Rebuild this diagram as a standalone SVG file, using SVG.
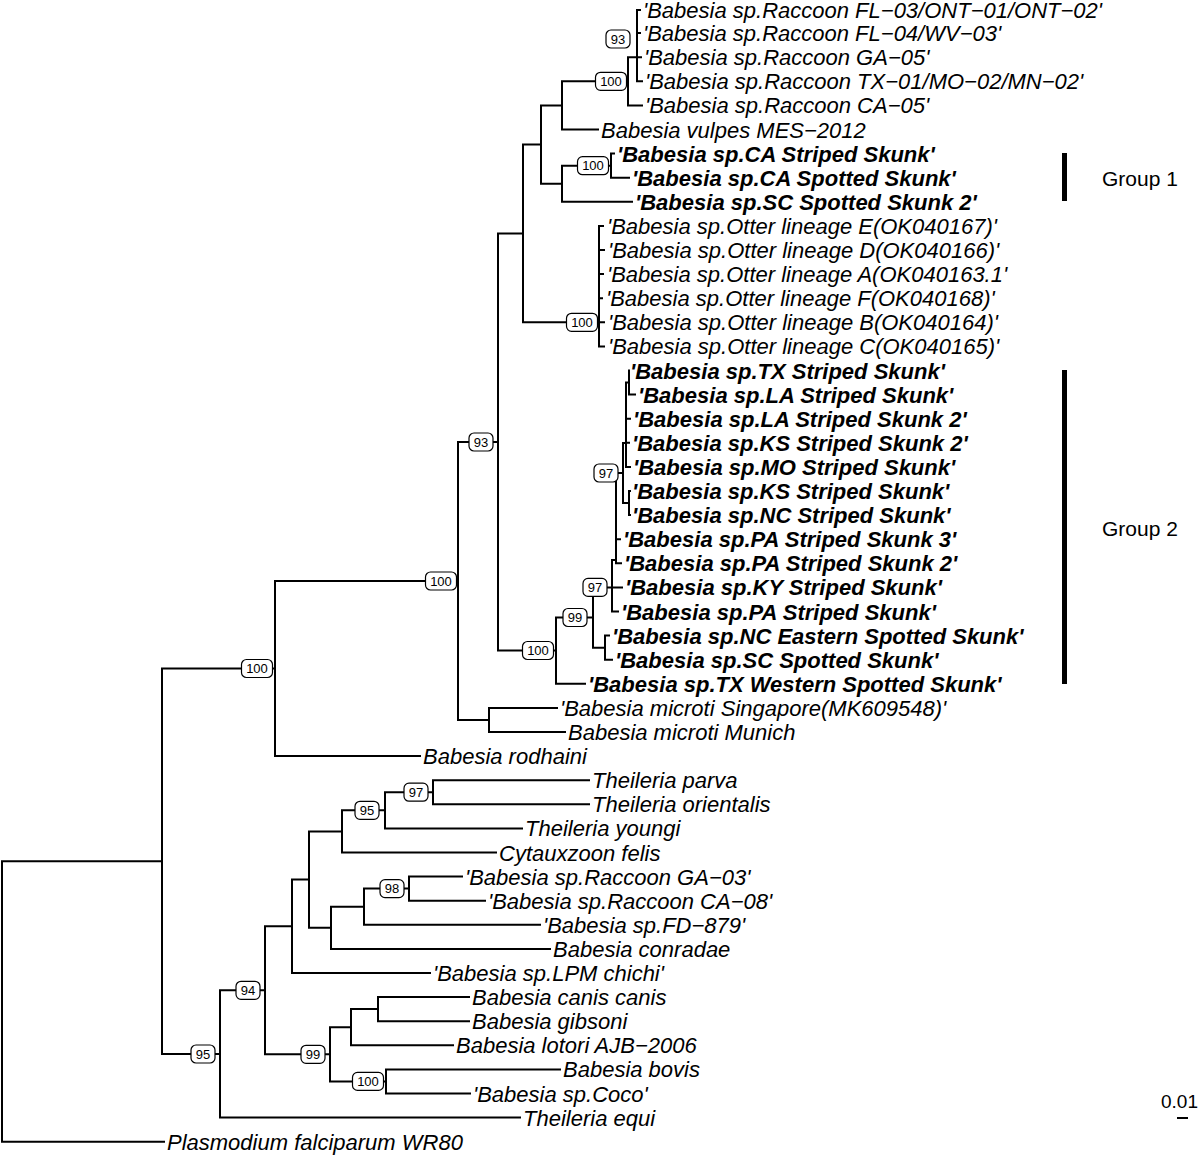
<svg xmlns="http://www.w3.org/2000/svg" width="1200" height="1155" viewBox="0 0 1200 1155">
<style>
.e{fill:none;stroke:#000;stroke-width:2;stroke-linecap:square}
.t{font-family:"Liberation Sans",Arial,sans-serif;font-size:22px;font-style:italic;fill:#000}
.b{font-weight:bold}
.bx rect{fill:#fff;stroke:#000;stroke-width:1.2}
.bx text{font-family:"Liberation Sans",Arial,sans-serif;font-size:13px;text-anchor:middle;fill:#000}
.g{font-family:"Liberation Sans",Arial,sans-serif;font-size:21px;fill:#000}
</style>
<rect width="1200" height="1155" fill="#fff"/>
<g id="connectors" class="e">
<path d="M2 861.2V1141.7M2 861.2H162M2 1141.7H164"/>
<path d="M162 668.5V1054M162 668.5H275M162 1054H220"/>
<path d="M275 581V756.1M275 581H458M275 756.1H420"/>
<path d="M458 442V720M458 442H498M458 720H489"/>
<path d="M489 707.9V732M489 707.9H557M489 732H565"/>
<path d="M498 233.5V650.5M498 233.5H523M498 650.5H556"/>
<path d="M523 144.6V322.3M523 144.6H541M523 322.3H599"/>
<path d="M541 105.4V183.7M541 105.4H562M541 183.7H562"/>
<path d="M562 81.3V129.5M562 81.3H628M562 129.5H598"/>
<path d="M628 57.2V105.4M628 57.2H637M628 105.4H642"/>
<path d="M637 10V81.3M637 10H640M637 33.1H640M637 57.2H641M637 81.3H642"/>
<path d="M562 165.7V201.8M562 165.7H611M562 201.8H632"/>
<path d="M611 153.6V177.7M611 153.6H614M611 177.7H629"/>
<path d="M599 225.9V346.4M599 225.9H603M599 250H604M599 274.1H603M599 298.2H602M599 322.3H604M599 346.4H604"/>
<path d="M556 617.5V683.8M556 617.5H593M556 683.8H585"/>
<path d="M593 587.4V647.7M593 587.4H612M593 647.7H605"/>
<path d="M605 635.6V659.7M605 635.6H609M605 659.7H612"/>
<path d="M612 560V611.5M612 560H616M612 587.4H622M612 611.5H618"/>
<path d="M616 473V563.3M616 473H623M616 539.2H620M616 563.3H621"/>
<path d="M623 443V503M623 443H626M623 503H629"/>
<path d="M626 382.5V466.9M626 382.5H629M626 418.7H630M626 442.8H629M626 466.9H630"/>
<path d="M629 370.5V394.6M629 394.6H635"/>
<path d="M629 491V515.1M629 491H630M629 515.1H630"/>
<path d="M220 990.3V1117.6M220 990.3H265M220 1117.6H520"/>
<path d="M265 926.3V1054.3M265 926.3H292M265 1054.3H330"/>
<path d="M292 879.6V973M292 879.6H309M292 973H430"/>
<path d="M309 831.4V927.8M309 831.4H342M309 927.8H331"/>
<path d="M342 810.3V852.5M342 810.3H385M342 852.5H496"/>
<path d="M385 792.2V828.4M385 792.2H433M385 828.4H522"/>
<path d="M433 780.2V804.3M433 780.2H589M433 804.3H589"/>
<path d="M331 906.7V948.9M331 906.7H364M331 948.9H550"/>
<path d="M364 888.6V924.8M364 888.6H409M364 924.8H540"/>
<path d="M409 876.6V900.7M409 876.6H462M409 900.7H485"/>
<path d="M330 1027.2V1081.4M330 1027.2H351M330 1081.4H386"/>
<path d="M351 1009.1V1045.3M351 1009.1H378M351 1045.3H453"/>
<path d="M378 997.1V1021.2M378 997.1H469M378 1021.2H469"/>
<path d="M386 1069.4V1093.5M386 1069.4H560M386 1093.5H470"/>
</g>
<g id="support-labels" class="bx">
<g id="bs1"><rect x="606" y="30" width="24" height="18" rx="5"/><text x="618" y="43.6">93</text></g>
<g id="bs2"><rect x="595.5" y="72.3" width="31" height="18" rx="5"/><text x="611" y="85.9">100</text></g>
<g id="bs3"><rect x="577.5" y="156.7" width="31" height="18" rx="5"/><text x="593" y="170.3">100</text></g>
<g id="bs4"><rect x="566.5" y="313.3" width="31" height="18" rx="5"/><text x="582" y="326.9">100</text></g>
<g id="bs5"><rect x="469" y="433" width="24" height="18" rx="5"/><text x="481" y="446.6">93</text></g>
<g id="bs6"><rect x="594" y="464" width="24" height="18" rx="5"/><text x="606" y="477.6">97</text></g>
<g id="bs7"><rect x="583" y="578.4" width="24" height="18" rx="5"/><text x="595" y="592">97</text></g>
<g id="bs8"><rect x="563" y="608.5" width="24" height="18" rx="5"/><text x="575" y="622.1">99</text></g>
<g id="bs9"><rect x="522.5" y="641.5" width="31" height="18" rx="5"/><text x="538" y="655.1">100</text></g>
<g id="bs10"><rect x="425.5" y="572" width="31" height="18" rx="5"/><text x="441" y="585.6">100</text></g>
<g id="bs11"><rect x="241.5" y="659.5" width="31" height="18" rx="5"/><text x="257" y="673.1">100</text></g>
<g id="bs12"><rect x="404" y="783.2" width="24" height="18" rx="5"/><text x="416" y="796.8">97</text></g>
<g id="bs13"><rect x="355" y="801.3" width="24" height="18" rx="5"/><text x="367" y="814.9">95</text></g>
<g id="bs14"><rect x="380" y="879.6" width="24" height="18" rx="5"/><text x="392" y="893.2">98</text></g>
<g id="bs15"><rect x="236" y="981.3" width="24" height="18" rx="5"/><text x="248" y="994.9">94</text></g>
<g id="bs16"><rect x="191" y="1045" width="24" height="18" rx="5"/><text x="203" y="1058.6">95</text></g>
<g id="bs17"><rect x="301" y="1045.3" width="24" height="18" rx="5"/><text x="313" y="1058.9">99</text></g>
<g id="bs18"><rect x="352.5" y="1072.4" width="31" height="18" rx="5"/><text x="368" y="1086">100</text></g>
</g>
<g id="tips" class="t">
<g id="tip1"><text x="643" y="17.8">'Babesia sp.Raccoon FL−03/ONT−01/ONT−02'</text></g>
<g id="tip2"><text x="643" y="41.1">'Babesia sp.Raccoon FL−04/WV−03'</text></g>
<g id="tip3"><text x="644" y="65.2">'Babesia sp.Raccoon GA−05'</text></g>
<g id="tip4"><text x="645" y="89.3">'Babesia sp.Raccoon TX−01/MO−02/MN−02'</text></g>
<g id="tip5"><text x="645" y="113.4">'Babesia sp.Raccoon CA−05'</text></g>
<g id="tip6"><text x="601" y="137.5">Babesia vulpes MES−2012</text></g>
<g id="tip7"><text class="b" x="617" y="161.6">'Babesia sp.CA Striped Skunk'</text></g>
<g id="tip8"><text class="b" x="632" y="185.7">'Babesia sp.CA Spotted Skunk'</text></g>
<g id="tip9"><text class="b" x="635" y="209.8">'Babesia sp.SC Spotted Skunk 2'</text></g>
<g id="tip10"><text x="607" y="233.9">'Babesia sp.Otter lineage E(OK040167)'</text></g>
<g id="tip11"><text x="608" y="258">'Babesia sp.Otter lineage D(OK040166)'</text></g>
<g id="tip12"><text x="607" y="282.1">'Babesia sp.Otter lineage A(OK040163.1'</text></g>
<g id="tip13"><text x="606" y="306.2">'Babesia sp.Otter lineage F(OK040168)'</text></g>
<g id="tip14"><text x="608" y="330.3">'Babesia sp.Otter lineage B(OK040164)'</text></g>
<g id="tip15"><text x="608" y="354.4">'Babesia sp.Otter lineage C(OK040165)'</text></g>
<g id="tip16"><text class="b" x="630" y="378.5">'Babesia sp.TX Striped Skunk'</text></g>
<g id="tip17"><text class="b" x="638" y="402.6">'Babesia sp.LA Striped Skunk'</text></g>
<g id="tip18"><text class="b" x="633" y="426.7">'Babesia sp.LA Striped Skunk 2'</text></g>
<g id="tip19"><text class="b" x="632" y="450.8">'Babesia sp.KS Striped Skunk 2'</text></g>
<g id="tip20"><text class="b" x="633" y="474.9">'Babesia sp.MO Striped Skunk'</text></g>
<g id="tip21"><text class="b" x="632" y="499">'Babesia sp.KS Striped Skunk'</text></g>
<g id="tip22"><text class="b" x="632" y="523.1">'Babesia sp.NC Striped Skunk'</text></g>
<g id="tip23"><text class="b" x="623" y="547.2">'Babesia sp.PA Striped Skunk 3'</text></g>
<g id="tip24"><text class="b" x="624" y="571.3">'Babesia sp.PA Striped Skunk 2'</text></g>
<g id="tip25"><text class="b" x="625" y="595.4">'Babesia sp.KY Striped Skunk'</text></g>
<g id="tip26"><text class="b" x="621" y="619.5">'Babesia sp.PA Striped Skunk'</text></g>
<g id="tip27"><text class="b" x="612" y="643.6">'Babesia sp.NC Eastern Spotted Skunk'</text></g>
<g id="tip28"><text class="b" x="615" y="667.7">'Babesia sp.SC Spotted Skunk'</text></g>
<g id="tip29"><text class="b" x="588" y="691.8">'Babesia sp.TX Western Spotted Skunk'</text></g>
<g id="tip30"><text x="560" y="715.9">'Babesia microti Singapore(MK609548)'</text></g>
<g id="tip31"><text x="568" y="740">Babesia microti Munich</text></g>
<g id="tip32"><text x="423" y="764.1">Babesia rodhaini</text></g>
<g id="tip33"><text x="592" y="788.2">Theileria parva</text></g>
<g id="tip34"><text x="592" y="812.3">Theileria orientalis</text></g>
<g id="tip35"><text x="525" y="836.4">Theileria youngi</text></g>
<g id="tip36"><text x="499" y="860.5">Cytauxzoon felis</text></g>
<g id="tip37"><text x="465" y="884.6">'Babesia sp.Raccoon GA−03'</text></g>
<g id="tip38"><text x="488" y="908.7">'Babesia sp.Raccoon CA−08'</text></g>
<g id="tip39"><text x="543" y="932.8">'Babesia sp.FD−879'</text></g>
<g id="tip40"><text x="553" y="956.9">Babesia conradae</text></g>
<g id="tip41"><text x="433" y="981">'Babesia sp.LPM chichi'</text></g>
<g id="tip42"><text x="472" y="1005.1">Babesia canis canis</text></g>
<g id="tip43"><text x="472" y="1029.2">Babesia gibsoni</text></g>
<g id="tip44"><text x="456" y="1053.3">Babesia lotori AJB−2006</text></g>
<g id="tip45"><text x="563" y="1077.4">Babesia bovis</text></g>
<g id="tip46"><text x="473" y="1101.5">'Babesia sp.Coco'</text></g>
<g id="tip47"><text x="523" y="1125.6">Theileria equi</text></g>
<g id="tip48"><text x="167" y="1149.7">Plasmodium falciparum WR80</text></g>
</g>
<g id="group1">
<rect x="1062" y="153" width="5" height="48" fill="#000"/>
<text class="g" x="1102" y="186">Group 1</text>
</g>
<g id="group2">
<rect x="1062" y="370" width="5" height="314" fill="#000"/>
<text class="g" x="1102" y="536">Group 2</text>
</g>
<g id="scale">
<text class="g" x="1161" y="1108" style="font-size:19px">0.01</text>
<path d="M1177 1118H1188" stroke="#000" stroke-width="2"/>
</g>
</svg>
